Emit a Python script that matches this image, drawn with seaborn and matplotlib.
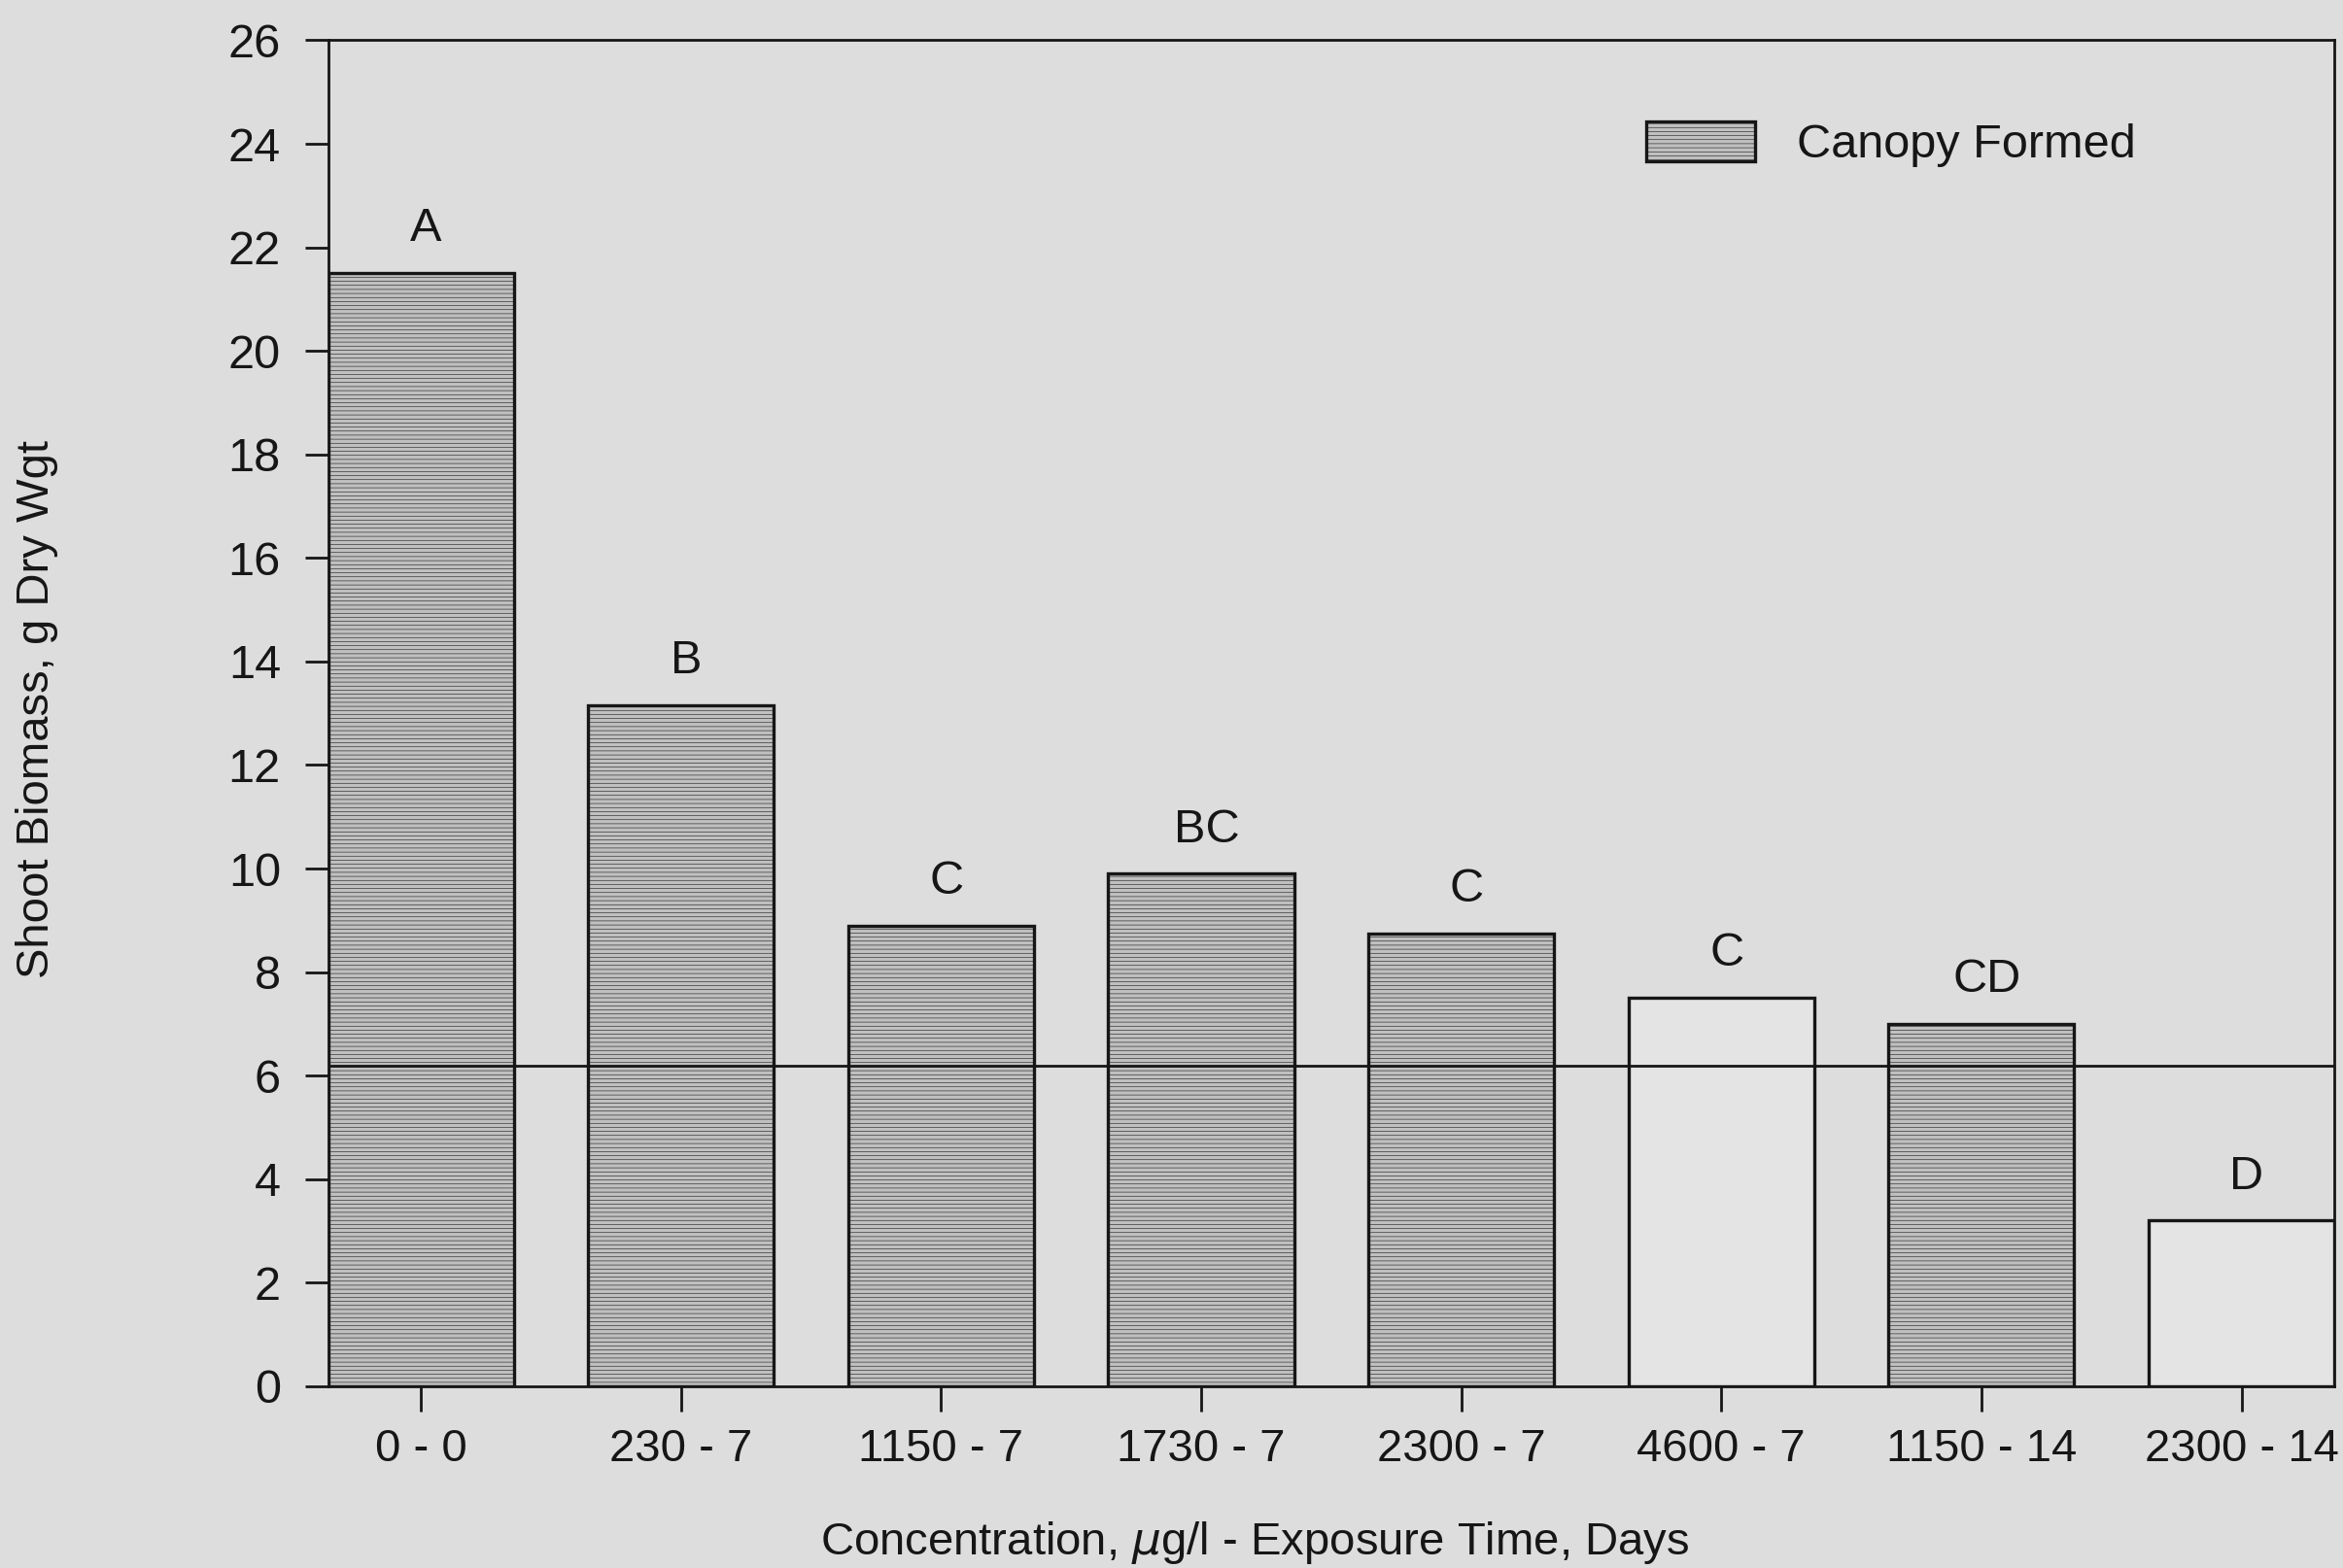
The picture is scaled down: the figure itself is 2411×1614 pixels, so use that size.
import matplotlib
matplotlib.use("Agg")
import matplotlib.pyplot as plt
import seaborn as sns
import pandas as pd
from matplotlib.patches import Patch

# Treatment (concentration - exposure days), shoot biomass and grouping letters
treatments = ["0 - 0", "230 - 7", "1150 - 7", "1730 - 7", "2300 - 7",
              "4600 - 7", "1150 - 14", "2300 - 14"]
biomass = [21.5, 13.15, 8.9, 9.9, 8.75, 7.5, 7.0, 3.2]
canopy_formed = [True, True, True, True, True, False, True, False]
group_letters = ["A", "B", "C", "BC", "C", "C", "CD", "D"]
reference_level = 6.2
y_ticks = list(range(0, 27, 2))

paper = "#dddddd"
shaded = "#c0c0c0"
screen = "#7a7a7a"
open_face = "#e4e4e4"
ink = "#161616"

sns.set_theme(style="white")
plt.rcParams["font.family"] = ["Liberation Sans", "DejaVu Sans"]
plt.rcParams["hatch.linewidth"] = 0.4
plt.rcParams["hatch.color"] = screen


def shade(patch):
    """Give a patch the fine horizontal screen used for canopy bars."""
    patch.set_hatch("----")
    if hasattr(patch, "set_hatchcolor"):
        patch.set_hatchcolor(screen)


df = pd.DataFrame({
    "treatment": treatments,
    "biomass": biomass,
    "status": ["Canopy Formed" if c else "No Canopy" for c in canopy_formed],
})

fig = plt.figure(figsize=(24.11, 16.14), dpi=100, facecolor=paper)
ax = fig.add_axes([0.140, 0.1159, 0.8563, 0.8584])
ax.set_facecolor(paper)

sns.barplot(data=df, x="treatment", y="biomass", hue="status",
            palette={"Canopy Formed": shaded, "No Canopy": open_face},
            dodge=False, width=0.714, edgecolor=ink, linewidth=2.4,
            legend=False, ax=ax)

for p in ax.patches:
    if p.get_facecolor()[0] < 0.8:
        shade(p)

# horizontal reference level across the plot
ax.axhline(reference_level, color=ink, lw=2.0, zorder=3)

# grouping letters above each bar
for i, (v, g) in enumerate(zip(biomass, group_letters)):
    ax.text(i + 0.02, v + 0.85, g, ha="center", va="center", fontsize=35, color=ink)

ax.set_xlim(-0.357, len(treatments) - 1 + 0.357)
ax.set_ylim(0, 26)
ax.set_yticks(y_ticks)
ax.set_yticklabels([str(t) for t in y_ticks])

for s in ax.spines.values():
    s.set_visible(True)
    s.set_color(ink)
    s.set_linewidth(2.0)

ax.tick_params(axis="y", direction="out", length=17, width=2, color=ink,
               pad=18, labelsize=35, labelcolor=ink, left=True)
ax.tick_params(axis="x", direction="out", length=19, width=2, color=ink,
               pad=12, labelsize=34, labelcolor=ink, bottom=True)

ax.set_ylabel("Shoot Biomass, g Dry Wgt", fontsize=34, color=ink, va="center")
ax.yaxis.set_label_coords(-0.1453, 0.503)
ax.set_xlabel(r"Concentration, $\mu$g/l - Exposure Time, Days", fontsize=34,
              color=ink, va="center")
ax.xaxis.set_label_coords(0.462, -0.116)

handle = Patch(facecolor=shaded, edgecolor=ink, linewidth=2.4, label="Canopy Formed")
shade(handle)
ax.legend(handles=[handle], loc="center left", bbox_to_anchor=(0.657, 0.9225),
          frameon=False, fontsize=35, handlelength=2.3, handleheight=0.9,
          handletextpad=0.9, borderpad=0, borderaxespad=0, labelcolor=ink)

fig.savefig("out.png", dpi=100, facecolor=paper)
